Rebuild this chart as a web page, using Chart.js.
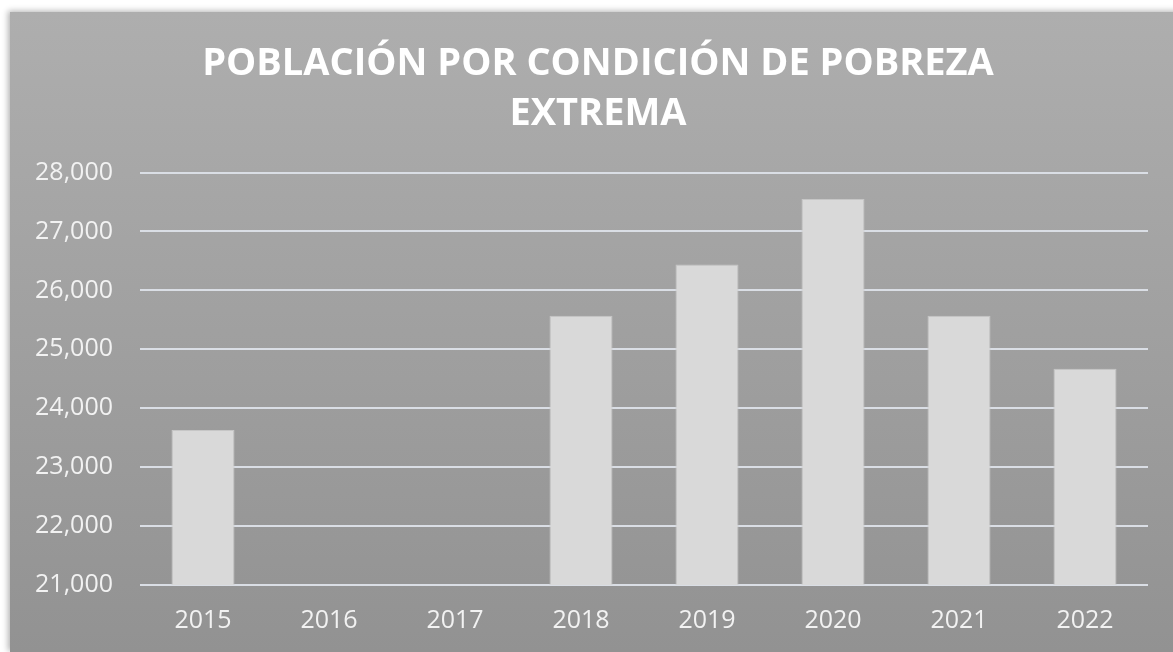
<!DOCTYPE html>
<html>
<head>
<meta charset="utf-8">
<script src="https://cdn.jsdelivr.net/npm/chart.js@4"></script>
<style>
  html, body { margin: 0; padding: 0; background: #ffffff; overflow: hidden; }
  #wrap {
    position: absolute; left: 10px; top: 12px;
    width: 1176px; height: 640px;
    box-shadow: -2px -1px 6px rgba(0, 0, 0, 0.3);
  }
</style>
</head>
<body>
<div id="wrap">
  <canvas id="pobreza-chart" width="1176" height="640"></canvas>
</div>
<script>
// Población en pobreza extrema por año
const years = ['2015', '2016', '2017', '2018', '2019', '2020', '2021', '2022'];
const population = [23630, null, null, 25570, 26440, 27550, 25570, 24670];
const yTicks = [21000, 22000, 23000, 24000, 25000, 26000, 27000, 28000];

const titleLines = ['POBLACIÓN POR CONDICIÓN DE POBREZA', 'EXTREMA'];

// gray gradient behind everything
const backgroundPlugin = {
    id: 'grayBackground',
    beforeDraw(chart) {
        const { ctx, width, height } = chart;
        const grad = ctx.createLinearGradient(0, 0, 0, height);
        grad.addColorStop(0, '#aeaeae');
        grad.addColorStop(1, '#929292');
        ctx.save();
        ctx.fillStyle = grad;
        ctx.fillRect(0, 0, width, height);
        ctx.restore();
    }
};

const ctx = document.getElementById('pobreza-chart').getContext('2d');
new Chart(ctx, {
    type: 'bar',
    data: {
        labels: years,
        datasets: [{
            label: 'Población',
            data: population,
            backgroundColor: '#d9d9d9',
            borderColor: '#c6c6c6',
            borderWidth: 1,
            barPercentage: 0.5,
            categoryPercentage: 1.0,
        }],
    },
    options: {
        responsive: false,
        animation: false,
        layout: {
            padding: 0
        },
        plugins: {
            legend: { display: false },
            tooltip: { enabled: false },
            title: {
                display: true,
                text: titleLines,
                color: '#ffffff',
                font: { family: 'Open Sans', size: 38, weight: 'bold', lineHeight: 1.33 },
                padding: { top: 26.5, bottom: 33 },
            },
        },
        scales: {
            y: {
                min: yTicks[0],
                max: yTicks[yTicks.length - 1],
                afterBuildTicks: (scale) => {
                    scale.ticks = yTicks.map(v => ({ value: v }));
                },
                afterFit: (scale) => { scale.width = 130; },
                ticks: {
                    color: '#f2f2f2',
                    padding: 27,
                    font: { family: 'Open Sans', size: 25 },
                    callback: (v) => Number(v).toLocaleString('en-US'),
                },
                grid: {
                    color: '#dadee5',
                    lineWidth: 2,
                    drawTicks: false,
                },
                border: { display: false },
            },
            // empty strip on the right so the plot stops short of the edge
            yRight: {
                position: 'right',
                afterFit: (scale) => { scale.width = 38; },
                ticks: { display: false },
                grid: { display: false, drawTicks: false },
                border: { display: false },
            },
            x: {
                afterFit: (scale) => { scale.height = 67; },
                ticks: {
                    color: '#f2f2f2',
                    padding: 21,
                    font: { family: 'Open Sans', size: 25 },
                },
                grid: { display: false, drawTicks: false },
                border: { display: false },
            },
        },
    },
    plugins: [backgroundPlugin],
});
</script>
</body>
</html>
